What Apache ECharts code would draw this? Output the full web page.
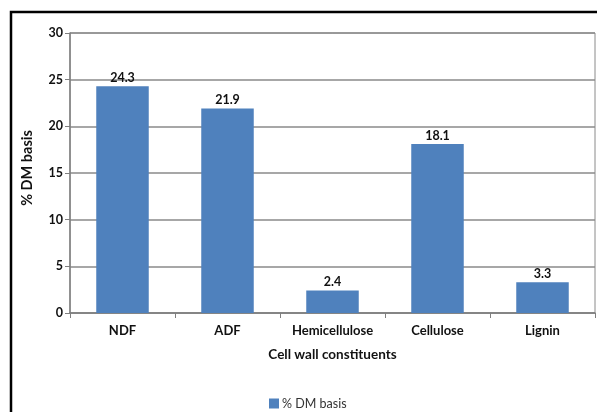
<!DOCTYPE html>
<html>
<head>
<meta charset="utf-8">
<script src="https://cdn.jsdelivr.net/npm/echarts@6/dist/echarts.min.js"></script>
<style>
  html, body { margin: 0; padding: 0; background: #fff; }
  #chart { width: 597px; height: 412px; }
</style>
</head>
<body>
<div id="chart"></div>
<script>
// Cell wall constituents, % of dry matter
const categories = ['NDF', 'ADF', 'Hemicellulose', 'Cellulose', 'Lignin'];
const dmValues = [24.3, 21.9, 2.4, 18.1, 3.3];
const yTicks = [0, 5, 10, 15, 20, 25, 30];

const font = 'Lato, "Open Sans", sans-serif';
const chart = echarts.init(document.getElementById('chart'));

chart.setOption({
  animation: false,
  backgroundColor: '#ffffff',
  graphic: [{
    type: 'rect',
    shape: { x: 11, y: 12, width: 600, height: 420 },
    style: { fill: 'none', stroke: '#000', lineWidth: 2.5 },
    silent: true
  }, {
    type: 'rect',
    shape: { x: 70, y: 33, width: 525, height: 280 },
    style: { fill: 'none', stroke: '#8a8a8a', lineWidth: 1 },
    silent: true,
    z: 0
  }],
  grid: { left: 70, top: 33, right: 2, bottom: 99, containLabel: false },
  legend: {
    top: 397,
    left: 269,
    padding: 0,
    itemWidth: 10,
    itemHeight: 10,
    itemGap: 4,
    icon: 'rect',
    textStyle: { fontFamily: font, fontSize: 12.5, color: '#333', padding: [0, 0, 0, -2] },
    data: ['% DM basis']
  },
  xAxis: {
    type: 'category',
    data: categories,
    name: 'Cell wall constituents',
    nameLocation: 'middle',
    nameGap: 35,
    nameTextStyle: { fontFamily: font, fontSize: 13.5, fontWeight: 'bold', color: '#111' },
    axisLine: { lineStyle: { color: '#7f7f7f', width: 1.5 } },
    axisTick: { show: true, length: 5, lineStyle: { color: '#7f7f7f' } },
    axisLabel: { interval: 0, fontFamily: font, fontSize: 13, fontWeight: 'bold', color: '#111', margin: 11 }
  },
  yAxis: {
    type: 'value',
    min: yTicks[0],
    max: yTicks[yTicks.length - 1],
    interval: 5,
    name: '% DM basis',
    nameLocation: 'middle',
    nameGap: 35,
    nameRotate: 90,
    nameTextStyle: { fontFamily: font, fontSize: 14.5, fontWeight: 'bold', color: '#111', padding: [0, 0, 0, 10] },
    axisLine: { show: true, lineStyle: { color: '#7f7f7f', width: 1.5 } },
    axisTick: { show: true, length: 5, lineStyle: { color: '#7f7f7f' } },
    axisLabel: { fontFamily: font, fontSize: 12.5, fontWeight: 'bold', color: '#111', margin: 7 },
    splitLine: { lineStyle: { color: '#8a8a8a', width: 1.5 } }
  },
  series: [{
    name: '% DM basis',
    type: 'bar',
    data: dmValues,
    barWidth: '50%',
    itemStyle: { color: '#4f81bd' },
    label: {
      show: true,
      position: 'top',
      distance: 2,
      fontFamily: font,
      fontSize: 12.5,
      fontWeight: 'bold',
      color: '#111',
      formatter: p => p.value.toFixed(1)
    }
  }]
});
</script>
</body>
</html>
